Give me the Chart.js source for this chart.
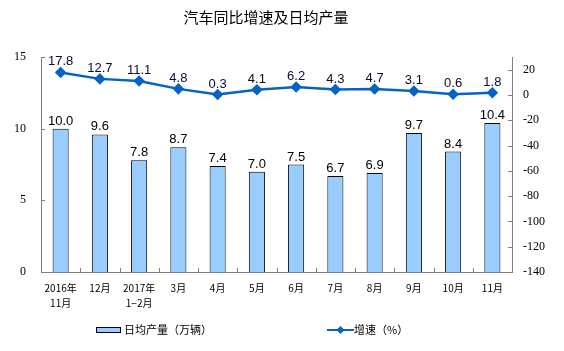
<!DOCTYPE html>
<html><head><meta charset="utf-8">
<script src="https://cdn.jsdelivr.net/npm/chart.js@4"></script>
<style>html,body{margin:0;padding:0;background:#fff}#wrap{width:564px;height:351px;position:relative}</style>
</head><body><div id="wrap"><canvas id="c" width="564" height="351"></canvas></div>
<script>
const categories = [["2016年","11月"],"12月",["2017年","1−2月"],"3月","4月","5月","6月","7月","8月","9月","10月","11月"];
const dailyOutput = [10.0, 9.6, 7.8, 8.7, 7.4, 7.0, 7.5, 6.7, 6.9, 9.7, 8.4, 10.4];
const growthRate = [17.8, 12.7, 11.1, 4.8, 0.3, 4.1, 6.2, 4.3, 4.7, 3.1, 0.6, 1.8];
const rightTicks = [-140, -120, -100, -80, -60, -40, -20, 0, 20];
const titleText = "汽车同比增速及日均产量";
const barLegend = "日均产量（万辆）";
const lineLegend = "增速（%）";

const CJK = "'Noto Sans CJK SC', sans-serif";
const LINE_COLOR = "#0563c1";

const extras = {
  id: 'extras',
  afterDraw(chart) {
    const ctx = chart.ctx;
    const x = chart.scales.x, y = chart.scales.y, y2 = chart.scales.y2;
    ctx.save();
    ctx.fillStyle = '#000';
    ctx.font = "15px " + CJK;
    ctx.textAlign = 'center'; ctx.textBaseline = 'middle';
    ctx.fillText(titleText, 266, 17);
    ctx.strokeStyle = '#808080'; ctx.lineWidth = 1;
    ctx.beginPath();
    y.ticks.forEach(t => { const py = Math.round(y.getPixelForValue(t.value)) + 0.5; ctx.moveTo(x.left, py); ctx.lineTo(x.left + 4, py); });
    y2.ticks.forEach(t => { const py = Math.round(y2.getPixelForValue(t.value)) + 0.5; ctx.moveTo(x.right, py); ctx.lineTo(x.right - 4, py); });
    const step = (x.right - x.left) / categories.length;
    for (let i = 1; i < categories.length; i++) { const px = Math.round(x.left + i * step) + 0.5; ctx.moveTo(px, y.bottom); ctx.lineTo(px, y.bottom - 4); }
    ctx.stroke();
    ctx.font = "13px 'Liberation Sans', Arial, sans-serif";
    ctx.textAlign = 'center'; ctx.textBaseline = 'alphabetic';
    ctx.fillStyle = '#000';
    chart.getDatasetMeta(0).data.forEach((b, i) => { ctx.fillText(dailyOutput[i].toFixed(1), b.x, b.y - 4); });
    ctx.fillStyle = '#0a0a30';
    chart.getDatasetMeta(1).data.forEach((p, i) => { ctx.fillText(growthRate[i].toFixed(1), p.x, p.y - 7); });
    ctx.fillStyle = '#99ccff'; ctx.fillRect(96.5, 327.5, 24, 5);
    ctx.strokeStyle = '#000'; ctx.lineWidth = 1; ctx.strokeRect(96.5, 327.5, 24, 5);
    ctx.fillStyle = '#000'; ctx.font = "11px " + CJK; ctx.textAlign = 'left'; ctx.textBaseline = 'middle';
    ctx.fillText(barLegend, 124, 330);
    ctx.strokeStyle = LINE_COLOR; ctx.lineWidth = 2;
    ctx.beginPath(); ctx.moveTo(327, 330); ctx.lineTo(354, 330); ctx.stroke();
    ctx.fillStyle = LINE_COLOR; ctx.beginPath();
    ctx.moveTo(340.5, 326); ctx.lineTo(344.5, 330); ctx.lineTo(340.5, 334); ctx.lineTo(336.5, 330); ctx.closePath(); ctx.fill();
    ctx.fillStyle = '#000';
    ctx.fillText(lineLegend, 354, 330);
    ctx.restore();
  }
};

new Chart(document.getElementById('c'), {
  data: {
    labels: categories,
    datasets: [
      { type: 'bar', data: dailyOutput, yAxisID: 'y', backgroundColor: '#99ccff', borderColor: '#000', borderWidth: 1, barPercentage: 0.41, categoryPercentage: 1.0, order: 2 },
      { type: 'line', data: growthRate, yAxisID: 'y2', borderColor: LINE_COLOR, borderWidth: 2.5, pointStyle: 'rectRot', pointRadius: 4, pointBackgroundColor: LINE_COLOR, pointBorderColor: LINE_COLOR, tension: 0, order: 1 }
    ]
  },
  options: {
    responsive: false, animation: false,
    layout: { padding: { top: 57, left: 0, right: 0, bottom: 0 } },
    plugins: { legend: { display: false }, tooltip: { enabled: false }, title: { display: false } },
    scales: {
      x: {
        offset: true,
        grid: { display: false, drawTicks: false },
        border: { display: true, color: '#808080', width: 1 },
        ticks: { padding: 9, color: '#000', font: { family: 'Noto Sans CJK SC', size: 10, lineHeight: 1.5 }, maxRotation: 0, autoSkip: false },
        afterFit(s) { s.height = 79; }
      },
      y: {
        position: 'left', min: 0, max: 15,
        ticks: { stepSize: 5, padding: 15, color: '#000', font: { family: 'Liberation Serif', size: 12 } },
        grid: { display: false, drawTicks: false },
        border: { display: true, color: '#808080', width: 1 },
        afterFit(s) { s.width = 41; }
      },
      y2: {
        position: 'right', min: -140, max: 30,
        ticks: { padding: 11, color: '#000', font: { family: 'Liberation Serif', size: 12 } },
        afterBuildTicks(s) { s.ticks = rightTicks.map(v => ({ value: v })); },
        grid: { display: false, drawTicks: false },
        border: { display: true, color: '#808080', width: 1 },
        afterFit(s) { s.width = 52; }
      }
    }
  },
  plugins: [extras]
});
</script></body></html>
